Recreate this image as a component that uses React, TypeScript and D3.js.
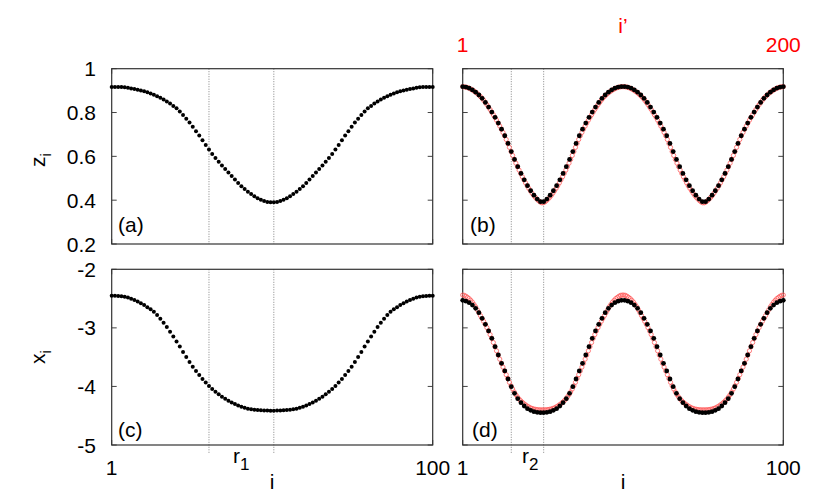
import React from "react";
import * as d3 from "d3";

// ---------- data ----------
const zA = [
  0.917, 0.917, 0.916, 0.916, 0.915, 0.913, 0.910, 0.907, 0.904, 0.900,
  0.897, 0.892, 0.887, 0.881, 0.874, 0.867, 0.859, 0.850, 0.841, 0.830,
  0.819, 0.805, 0.789, 0.772, 0.754, 0.735, 0.715, 0.695, 0.674, 0.652,
  0.631, 0.611, 0.592, 0.575, 0.558, 0.542, 0.526, 0.510, 0.494, 0.478,
  0.464, 0.451, 0.439, 0.428, 0.418, 0.409, 0.402, 0.396, 0.392, 0.390,
  0.390, 0.392, 0.396, 0.402, 0.409, 0.418, 0.428, 0.439, 0.451, 0.464,
  0.478, 0.494, 0.510, 0.526, 0.542, 0.558, 0.575, 0.592, 0.611, 0.631,
  0.652, 0.674, 0.695, 0.715, 0.735, 0.754, 0.772, 0.789, 0.805, 0.819,
  0.830, 0.841, 0.850, 0.859, 0.867, 0.874, 0.881, 0.887, 0.892, 0.897,
  0.900, 0.904, 0.907, 0.910, 0.913, 0.915, 0.916, 0.916, 0.917, 0.917,
];

const xC = [
  -2.450, -2.452, -2.456, -2.461, -2.467, -2.481, -2.501, -2.524, -2.551, -2.580,
  -2.610, -2.646, -2.684, -2.723, -2.780, -2.843, -2.911, -2.985, -3.065, -3.148,
  -3.233, -3.320, -3.410, -3.497, -3.582, -3.662, -3.737, -3.806, -3.872, -3.934,
  -3.991, -4.043, -4.089, -4.133, -4.175, -4.210, -4.243, -4.273, -4.300, -4.324,
  -4.345, -4.364, -4.380, -4.390, -4.397, -4.403, -4.408, -4.411, -4.413, -4.414,
  -4.414, -4.413, -4.411, -4.408, -4.403, -4.397, -4.390, -4.380, -4.364, -4.345,
  -4.324, -4.300, -4.273, -4.243, -4.210, -4.175, -4.133, -4.089, -4.043, -3.991,
  -3.934, -3.872, -3.806, -3.737, -3.662, -3.582, -3.497, -3.410, -3.320, -3.233,
  -3.148, -3.065, -2.985, -2.911, -2.843, -2.780, -2.723, -2.684, -2.646, -2.610,
  -2.580, -2.551, -2.524, -2.501, -2.481, -2.467, -2.461, -2.456, -2.452, -2.450,
];

const zB = [
  0.918, 0.916, 0.911, 0.903, 0.893, 0.880, 0.865, 0.846, 0.825, 0.802,
  0.778, 0.752, 0.724, 0.694, 0.659, 0.622, 0.586, 0.553, 0.522, 0.493,
  0.466, 0.443, 0.423, 0.405, 0.393, 0.393, 0.405, 0.423, 0.443, 0.466,
  0.493, 0.522, 0.553, 0.586, 0.622, 0.659, 0.694, 0.724, 0.752, 0.778,
  0.802, 0.825, 0.846, 0.865, 0.880, 0.893, 0.903, 0.911, 0.916, 0.918,
  0.918, 0.916, 0.911, 0.903, 0.893, 0.880, 0.865, 0.846, 0.825, 0.802,
  0.778, 0.752, 0.724, 0.694, 0.659, 0.622, 0.586, 0.553, 0.522, 0.493,
  0.466, 0.443, 0.423, 0.405, 0.393, 0.393, 0.405, 0.423, 0.443, 0.466,
  0.493, 0.522, 0.553, 0.586, 0.622, 0.659, 0.694, 0.724, 0.752, 0.778,
  0.802, 0.825, 0.846, 0.865, 0.880, 0.893, 0.903, 0.911, 0.916, 0.918,
];

const zBred = [
  0.918, 0.917, 0.916, 0.914, 0.911, 0.907, 0.903, 0.898, 0.893, 0.887,
  0.880, 0.873, 0.865, 0.856, 0.846, 0.836, 0.825, 0.814, 0.802, 0.790,
  0.778, 0.765, 0.752, 0.738, 0.724, 0.709, 0.694, 0.677, 0.659, 0.641,
  0.622, 0.604, 0.586, 0.569, 0.553, 0.537, 0.522, 0.507, 0.493, 0.479,
  0.466, 0.454, 0.443, 0.432, 0.422, 0.413, 0.405, 0.398, 0.392, 0.388,
  0.388, 0.392, 0.398, 0.405, 0.413, 0.422, 0.432, 0.443, 0.454, 0.466,
  0.479, 0.493, 0.507, 0.522, 0.537, 0.553, 0.569, 0.586, 0.604, 0.622,
  0.641, 0.659, 0.677, 0.694, 0.709, 0.724, 0.738, 0.752, 0.765, 0.778,
  0.790, 0.802, 0.814, 0.825, 0.836, 0.846, 0.856, 0.865, 0.873, 0.880,
  0.887, 0.893, 0.898, 0.903, 0.907, 0.911, 0.914, 0.916, 0.917, 0.918,
  0.918, 0.917, 0.916, 0.914, 0.911, 0.907, 0.903, 0.898, 0.893, 0.887,
  0.880, 0.873, 0.865, 0.856, 0.846, 0.836, 0.825, 0.814, 0.802, 0.790,
  0.778, 0.765, 0.752, 0.738, 0.724, 0.709, 0.694, 0.677, 0.659, 0.641,
  0.622, 0.604, 0.586, 0.569, 0.553, 0.537, 0.522, 0.507, 0.493, 0.479,
  0.466, 0.454, 0.443, 0.432, 0.422, 0.413, 0.405, 0.398, 0.392, 0.388,
  0.388, 0.392, 0.398, 0.405, 0.413, 0.422, 0.432, 0.443, 0.454, 0.466,
  0.479, 0.493, 0.507, 0.522, 0.537, 0.553, 0.569, 0.586, 0.604, 0.622,
  0.641, 0.659, 0.677, 0.694, 0.709, 0.724, 0.738, 0.752, 0.765, 0.778,
  0.790, 0.802, 0.814, 0.825, 0.836, 0.846, 0.856, 0.865, 0.873, 0.880,
  0.887, 0.893, 0.898, 0.903, 0.907, 0.911, 0.914, 0.916, 0.917, 0.918,
];

const xD = [
  -2.530, -2.545, -2.570, -2.610, -2.666, -2.740, -2.837, -2.940, -3.053, -3.179,
  -3.321, -3.463, -3.605, -3.736, -3.873, -4.004, -4.118, -4.209, -4.277, -4.334,
  -4.379, -4.408, -4.431, -4.442, -4.448, -4.448, -4.442, -4.431, -4.408, -4.379,
  -4.334, -4.277, -4.209, -4.118, -4.004, -3.873, -3.736, -3.605, -3.463, -3.321,
  -3.179, -3.053, -2.940, -2.837, -2.740, -2.666, -2.610, -2.570, -2.545, -2.530,
  -2.530, -2.545, -2.570, -2.610, -2.666, -2.740, -2.837, -2.940, -3.053, -3.179,
  -3.321, -3.463, -3.605, -3.736, -3.873, -4.004, -4.118, -4.209, -4.277, -4.334,
  -4.379, -4.408, -4.431, -4.442, -4.448, -4.448, -4.442, -4.431, -4.408, -4.379,
  -4.334, -4.277, -4.209, -4.118, -4.004, -3.873, -3.736, -3.605, -3.463, -3.321,
  -3.179, -3.053, -2.940, -2.837, -2.740, -2.666, -2.610, -2.570, -2.545, -2.530,
];

const xDred = [
  -2.440, -2.445, -2.460, -2.480, -2.500, -2.530, -2.560, -2.600, -2.640, -2.690,
  -2.740, -2.790, -2.840, -2.890, -2.940, -2.995, -3.053, -3.115, -3.179, -3.250,
  -3.321, -3.392, -3.463, -3.534, -3.605, -3.670, -3.736, -3.800, -3.865, -3.930,
  -3.990, -4.045, -4.095, -4.140, -4.180, -4.215, -4.245, -4.270, -4.295, -4.315,
  -4.335, -4.350, -4.365, -4.375, -4.385, -4.390, -4.395, -4.398, -4.400, -4.400,
  -4.400, -4.400, -4.398, -4.395, -4.390, -4.385, -4.375, -4.365, -4.350, -4.335,
  -4.315, -4.295, -4.270, -4.245, -4.215, -4.180, -4.140, -4.095, -4.045, -3.990,
  -3.930, -3.865, -3.800, -3.736, -3.670, -3.605, -3.534, -3.463, -3.392, -3.321,
  -3.250, -3.179, -3.115, -3.053, -2.995, -2.940, -2.890, -2.840, -2.790, -2.740,
  -2.690, -2.640, -2.600, -2.560, -2.530, -2.500, -2.480, -2.460, -2.445, -2.440,
  -2.440, -2.445, -2.460, -2.480, -2.500, -2.530, -2.560, -2.600, -2.640, -2.690,
  -2.740, -2.790, -2.840, -2.890, -2.940, -2.995, -3.053, -3.115, -3.179, -3.250,
  -3.321, -3.392, -3.463, -3.534, -3.605, -3.670, -3.736, -3.800, -3.865, -3.930,
  -3.990, -4.045, -4.095, -4.140, -4.180, -4.215, -4.245, -4.270, -4.295, -4.315,
  -4.335, -4.350, -4.365, -4.375, -4.385, -4.390, -4.395, -4.398, -4.400, -4.400,
  -4.400, -4.400, -4.398, -4.395, -4.390, -4.385, -4.375, -4.365, -4.350, -4.335,
  -4.315, -4.295, -4.270, -4.245, -4.215, -4.180, -4.140, -4.095, -4.045, -3.990,
  -3.930, -3.865, -3.800, -3.736, -3.670, -3.605, -3.534, -3.463, -3.392, -3.321,
  -3.250, -3.179, -3.115, -3.053, -2.995, -2.940, -2.890, -2.840, -2.790, -2.740,
  -2.690, -2.640, -2.600, -2.560, -2.530, -2.500, -2.480, -2.460, -2.445, -2.440,
];

const zTicks = [0.2, 0.4, 0.6, 0.8, 1];
const zTickLabels = ["0.2", "0.4", "0.6", "0.8", "1"];
const xTicks = [-5, -4, -3, -2];
const xTickLabels = ["-5", "-4", "-3", "-2"];
const iTicks = [1, 100];
const iTickLabels = ["1", "100"];
const iPrimeTicks = [1, 200];
const iPrimeTickLabels = ["1", "200"];
const markersLeft = [31, 51];
const markersRight = [16, 26];

// ---------- layout ----------
const W = 830;
const H = 492;
const FONT = "'Liberation Sans', Arial, Helvetica, sans-serif";
const LX = [111.7, 432.7];
const RX = [462.7, 783.3];
const TY = [68.7, 244];
const BY = [269.3, 445];

function Panel(props: any) {
  const {
    xr, yr, yDomain, ticks, tickLabels, showTickLabels, black, red, vlines,
    label, labelX, labelY, bigDots, extendLines,
  } = props;
  const xs = d3.scaleLinear().domain([1, 100]).range(xr);
  const xsRed = d3.scaleLinear().domain([1, 200]).range(xr);
  const ys = d3.scaleLinear().domain(yDomain).range([yr[1], yr[0]]);
  const tl = 5;
  return (
    <g>
      {vlines.map((v: number, k: number) => (
        <line key={"v" + k} x1={xs(v)} x2={xs(v)} y1={yr[0]} y2={extendLines ? yr[1] + 8 : yr[1]}
          stroke="#777" strokeWidth={0.9} strokeDasharray="1,1.5" />
      ))}
      {ticks.map((t: number, k: number) => (
        <g key={"t" + k}>
          <line x1={xr[0]} x2={xr[0] + tl} y1={ys(t)} y2={ys(t)} stroke="#444" strokeWidth={1} />
          <line x1={xr[1]} x2={xr[1] - tl} y1={ys(t)} y2={ys(t)} stroke="#444" strokeWidth={1} />
          {showTickLabels && (
            <text x={96} y={ys(t)} dy="0.36em" textAnchor="end" fontSize={21} fontFamily={FONT} fill="#000">
              {tickLabels[k]}
            </text>
          )}
        </g>
      ))}
      {iTicks.map((t: number, k: number) => (
        <g key={"it" + k}>
          <line x1={xs(t)} x2={xs(t)} y1={yr[0]} y2={yr[0] + tl} stroke="#444" strokeWidth={1} />
          <line x1={xs(t)} x2={xs(t)} y1={yr[1]} y2={yr[1] - tl} stroke="#444" strokeWidth={1} />
        </g>
      ))}
      <rect x={xr[0]} y={yr[0]} width={xr[1] - xr[0]} height={yr[1] - yr[0]}
        fill="none" stroke="#333" strokeWidth={1.2} />
      {red && red.map((v: number, k: number) => (
        <circle key={"r" + k} cx={xsRed(k + 1)} cy={ys(v)} r={2.1}
          fill="none" stroke="#ff5a5a" strokeWidth={0.8} />
      ))}
      {black.map((v: number, k: number) => (
        <circle key={"b" + k} cx={xs(k + 1)} cy={ys(v)} r={bigDots ? 2.4 : 2.0} fill="#000" />
      ))}
      <text x={labelX} y={labelY} fontSize={21} fontFamily={FONT} fill="#000">{label}</text>
    </g>
  );
}

export default function App() {
  const xl = d3.scaleLinear().domain([1, 100]).range(LX);
  const xrS = d3.scaleLinear().domain([1, 100]).range(RX);
  const xrP = d3.scaleLinear().domain([1, 200]).range(RX);
  return (
    <svg width={W} height={H} viewBox={`0 0 ${W} ${H}`}
      style={{ position: "absolute", left: 0, top: 0, background: "#fff" }}>
      <rect x={0} y={0} width={W} height={H} fill="#fff" />
      <Panel xr={LX} yr={TY} yDomain={[0.2, 1]} ticks={zTicks} tickLabels={zTickLabels}
        showTickLabels black={zA} vlines={markersLeft} label="(a)" labelX={118} labelY={232} />
      <Panel xr={RX} yr={TY} yDomain={[0.2, 1]} ticks={zTicks} tickLabels={zTickLabels}
        black={zB} red={zBred} bigDots vlines={markersRight} label="(b)" labelX={470} labelY={232} />
      <Panel xr={LX} yr={BY} yDomain={[-5, -2]} ticks={xTicks} tickLabels={xTickLabels}
        showTickLabels black={xC} vlines={markersLeft} extendLines label="(c)" labelX={118} labelY={437} />
      <Panel xr={RX} yr={BY} yDomain={[-5, -2]} ticks={xTicks} tickLabels={xTickLabels}
        black={xD} red={xDred} bigDots vlines={markersRight} extendLines label="(d)" labelX={472} labelY={437} />

      {/* y axis labels */}
      <text transform="translate(45,160) rotate(-90)" textAnchor="middle" fontSize={21} fontFamily={FONT}>
        z<tspan dy={6} fontSize={15}>i</tspan>
      </text>
      <text transform="translate(45,357) rotate(-90)" textAnchor="middle" fontSize={21} fontFamily={FONT}>
        x<tspan dy={6} fontSize={15}>i</tspan>
      </text>

      {/* bottom tick labels */}
      {iTicks.map((t, k) => (
        <g key={"bl" + k}>
          <text x={xl(t)} y={475} textAnchor="middle" fontSize={21} fontFamily={FONT}>{iTickLabels[k]}</text>
          <text x={xrS(t)} y={475} textAnchor="middle" fontSize={21} fontFamily={FONT}>{iTickLabels[k]}</text>
        </g>
      ))}
      <text x={233} y={463} fontSize={21} fontFamily={FONT}>
        r<tspan dy={7} fontSize={17}>1</tspan>
      </text>
      <text x={522} y={463} fontSize={21} fontFamily={FONT}>
        r<tspan dy={7} fontSize={17}>2</tspan>
      </text>
      <text x={272} y={489} textAnchor="middle" fontSize={21} fontFamily={FONT}>i</text>
      <text x={623} y={489} textAnchor="middle" fontSize={21} fontFamily={FONT}>i</text>

      {/* top red axis */}
      {iPrimeTicks.map((t, k) => (
        <text key={"tp" + k} x={xrP(t)} y={52} textAnchor="middle" fontSize={21} fontFamily={FONT} fill="#ff0000">
          {iPrimeTickLabels[k]}
        </text>
      ))}
      <text x={623} y={33} textAnchor="middle" fontSize={21} fontFamily={FONT} fill="#ff0000">i’</text>
    </svg>
  );
}
